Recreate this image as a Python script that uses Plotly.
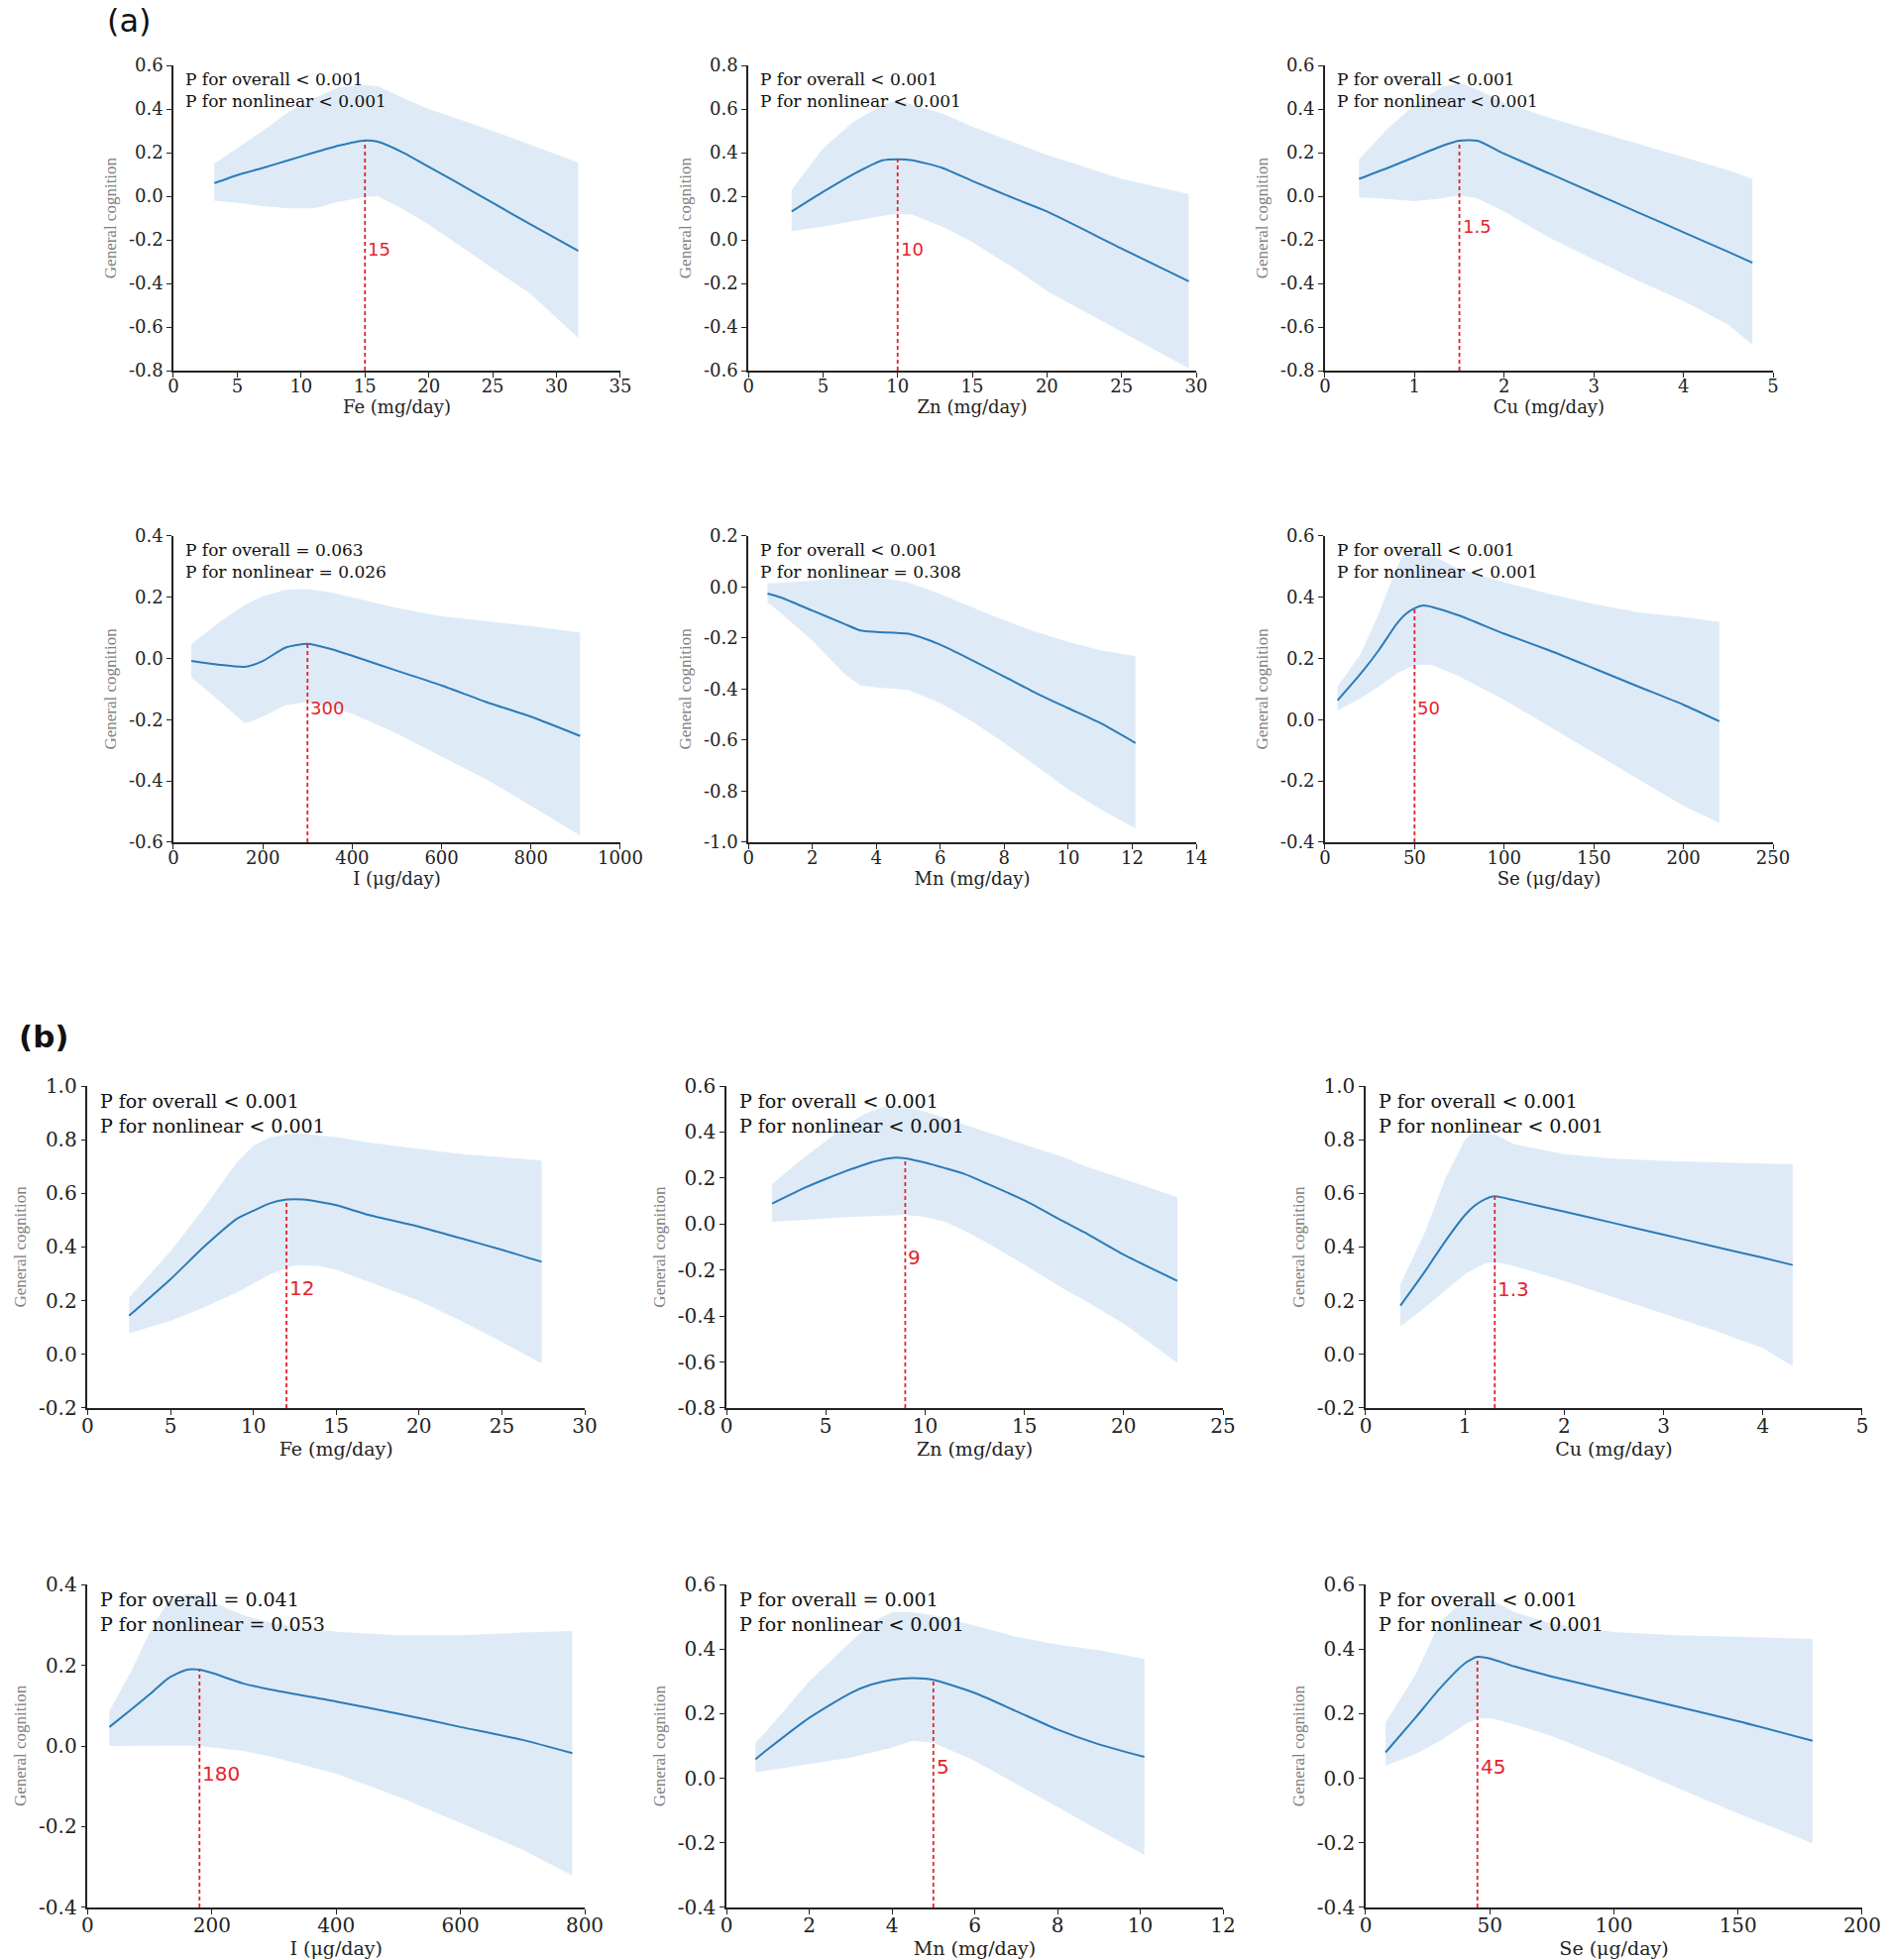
import numpy as np
import plotly.graph_objects as go

# ---------------------------------------------------------------
# (a) restricted cubic spline curves: x, estimate, lower CI, upper CI
# ---------------------------------------------------------------
FE_A_X = [3.2, 5, 7, 9, 11, 13, 15, 16, 18, 20, 22, 25, 28, 31.7]
FE_A_EST = [0.06, 0.097, 0.13, 0.165, 0.2, 0.233, 0.256, 0.25, 0.2, 0.135, 0.07, -0.03, -0.13, -0.25]
FE_A_LO = [-0.02, -0.03, -0.045, -0.055, -0.055, -0.025, -0.003, 0.0, -0.06, -0.13, -0.21, -0.33, -0.45, -0.65]
FE_A_HI = [0.15, 0.22, 0.3, 0.385, 0.45, 0.5, 0.51, 0.505, 0.45, 0.4, 0.36, 0.3, 0.235, 0.155]

ZN_A_X = [2.9, 5, 7, 9, 10, 11, 13, 15, 18, 20, 25, 29.5]
ZN_A_EST = [0.13, 0.22, 0.3, 0.365, 0.37, 0.365, 0.33, 0.27, 0.185, 0.13, -0.04, -0.19]
ZN_A_LO = [0.04, 0.06, 0.085, 0.11, 0.12, 0.115, 0.06, -0.01, -0.14, -0.235, -0.42, -0.59]
ZN_A_HI = [0.23, 0.42, 0.54, 0.62, 0.64, 0.62, 0.58, 0.52, 0.44, 0.39, 0.28, 0.21]

CU_A_X = [0.38, 0.7, 1.0, 1.3, 1.5, 1.7, 2.0, 2.5, 3.0, 3.5, 4.0, 4.5, 4.77]
CU_A_EST = [0.08, 0.13, 0.18, 0.23, 0.255, 0.255, 0.195, 0.105, 0.015, -0.075, -0.165, -0.255, -0.305]
CU_A_LO = [-0.005, -0.012, -0.022, -0.01, 0.005, -0.01, -0.07, -0.19, -0.29, -0.39, -0.48, -0.59, -0.68]
CU_A_HI = [0.17, 0.31, 0.42, 0.5, 0.52, 0.49, 0.43, 0.36, 0.3, 0.24, 0.18, 0.12, 0.08]

I_A_X = [40, 100, 160, 200, 250, 300, 350, 400, 500, 600, 700, 800, 910]
I_A_EST = [-0.008, -0.02, -0.027, -0.008, 0.035, 0.048, 0.032, 0.009, -0.04, -0.088, -0.142, -0.19, -0.253]
I_A_LO = [-0.061, -0.135, -0.212, -0.19, -0.153, -0.142, -0.158, -0.18, -0.245, -0.32, -0.395, -0.481, -0.578]
I_A_HI = [0.046, 0.116, 0.175, 0.203, 0.224, 0.227, 0.217, 0.2, 0.165, 0.138, 0.122, 0.106, 0.084]

MN_A_X = [0.6, 1, 2, 3, 3.5, 4, 5, 6, 7, 8, 9, 10, 11, 12.1]
MN_A_EST = [-0.025, -0.04, -0.092, -0.144, -0.17, -0.176, -0.183, -0.226, -0.287, -0.351, -0.416, -0.475, -0.533, -0.611]
MN_A_LO = [-0.06, -0.1, -0.21, -0.34, -0.385, -0.393, -0.403, -0.455, -0.527, -0.611, -0.702, -0.792, -0.87, -0.946]
MN_A_HI = [0.014, 0.016, 0.025, 0.038, 0.04, 0.04, 0.018, -0.027, -0.08, -0.13, -0.176, -0.215, -0.248, -0.27]

SE_A_X = [7, 20, 30, 40, 45, 50, 55, 60, 75, 100, 125, 150, 175, 200, 220]
SE_A_EST = [0.063, 0.151, 0.227, 0.313, 0.345, 0.364, 0.373, 0.368, 0.34, 0.281, 0.227, 0.168, 0.108, 0.049, -0.005]
SE_A_LO = [0.03, 0.07, 0.108, 0.151, 0.165, 0.178, 0.18, 0.178, 0.141, 0.065, -0.022, -0.108, -0.195, -0.281, -0.337]
SE_A_HI = [0.108, 0.216, 0.346, 0.497, 0.551, 0.562, 0.557, 0.535, 0.492, 0.449, 0.411, 0.378, 0.351, 0.335, 0.319]

# ---------------------------------------------------------------
# (b)
# ---------------------------------------------------------------
FE_B_X = [2.5, 5, 7, 9, 10, 11, 12, 12.5, 13, 14, 15, 17, 20, 22.5, 25, 27.4]
FE_B_EST = [0.144, 0.28, 0.4, 0.505, 0.535, 0.563, 0.577, 0.578, 0.577, 0.568, 0.556, 0.519, 0.476, 0.433, 0.39, 0.345]
FE_B_LO = [0.079, 0.125, 0.175, 0.23, 0.265, 0.298, 0.322, 0.331, 0.333, 0.329, 0.315, 0.27, 0.2, 0.126, 0.046, -0.034]
FE_B_HI = [0.212, 0.384, 0.544, 0.716, 0.778, 0.809, 0.82, 0.825, 0.823, 0.815, 0.81, 0.79, 0.766, 0.747, 0.735, 0.722]

ZN_B_X = [2.3, 4, 5, 6, 7, 8, 8.5, 9, 10, 11, 12, 13, 15, 17, 18, 20, 22.7]
ZN_B_EST = [0.089, 0.16, 0.196, 0.23, 0.26, 0.283, 0.289, 0.286, 0.267, 0.243, 0.217, 0.18, 0.103, 0.01, -0.035, -0.133, -0.247]
ZN_B_LO = [0.01, 0.02, 0.024, 0.03, 0.034, 0.037, 0.038, 0.039, 0.031, 0.01, -0.03, -0.076, -0.176, -0.283, -0.33, -0.433, -0.604]
ZN_B_HI = [0.174, 0.296, 0.36, 0.431, 0.481, 0.513, 0.515, 0.51, 0.489, 0.46, 0.431, 0.405, 0.346, 0.29, 0.253, 0.196, 0.117]

CU_B_X = [0.35, 0.6, 0.8, 1.0, 1.1, 1.2, 1.3, 1.5, 2.0, 2.5, 3.0, 3.5, 4.0, 4.3]
CU_B_EST = [0.182, 0.311, 0.421, 0.519, 0.555, 0.578, 0.589, 0.574, 0.532, 0.489, 0.446, 0.403, 0.36, 0.333]
CU_B_LO = [0.105, 0.176, 0.238, 0.299, 0.32, 0.338, 0.345, 0.329, 0.274, 0.213, 0.152, 0.091, 0.023, -0.044]
CU_B_HI = [0.262, 0.458, 0.654, 0.801, 0.834, 0.83, 0.82, 0.783, 0.746, 0.73, 0.721, 0.715, 0.711, 0.709]

I_B_X = [35, 70, 100, 130, 160, 180, 200, 250, 300, 400, 500, 600, 700, 780]
I_B_EST = [0.047, 0.09, 0.128, 0.168, 0.189, 0.189, 0.181, 0.155, 0.138, 0.11, 0.08, 0.047, 0.015, -0.018]
I_B_LO = [0.0, 0.0, 0.001, 0.001, 0.001, 0.0, -0.003, -0.012, -0.028, -0.069, -0.126, -0.191, -0.257, -0.321]
I_B_HI = [0.087, 0.185, 0.283, 0.36, 0.377, 0.375, 0.357, 0.324, 0.303, 0.283, 0.274, 0.274, 0.281, 0.285]

MN_B_X = [0.7, 1, 2, 3, 3.5, 4, 4.5, 5, 6, 7, 8, 9, 10.1]
MN_B_EST = [0.059, 0.09, 0.187, 0.264, 0.29, 0.305, 0.31, 0.305, 0.264, 0.208, 0.151, 0.105, 0.066]
MN_B_LO = [0.018, 0.024, 0.044, 0.064, 0.08, 0.095, 0.116, 0.11, 0.054, -0.017, -0.089, -0.161, -0.237]
MN_B_HI = [0.11, 0.151, 0.3, 0.422, 0.483, 0.514, 0.514, 0.504, 0.473, 0.438, 0.414, 0.397, 0.369]

SE_B_X = [8, 20, 30, 40, 45, 50, 60, 75, 100, 125, 150, 180]
SE_B_EST = [0.08, 0.187, 0.279, 0.356, 0.376, 0.371, 0.346, 0.315, 0.269, 0.223, 0.177, 0.116]
SE_B_LO = [0.039, 0.075, 0.116, 0.167, 0.185, 0.187, 0.167, 0.131, 0.054, -0.028, -0.109, -0.201]
SE_B_HI = [0.172, 0.32, 0.484, 0.555, 0.565, 0.555, 0.514, 0.478, 0.453, 0.443, 0.438, 0.431]

# cut points (red dashed lines) and p values
CUTS_A = [15, 10, 1.5, 300, None, 50]
CUTS_B = [12, 9, 1.3, 180, 5, 45]
P_OVERALL_A = ["< 0.001", "< 0.001", "< 0.001", "= 0.063", "< 0.001", "< 0.001"]
P_NONLIN_A = ["< 0.001", "< 0.001", "< 0.001", "= 0.026", "= 0.308", "< 0.001"]
P_OVERALL_B = ["< 0.001", "< 0.001", "< 0.001", "= 0.041", "= 0.001", "< 0.001"]
P_NONLIN_B = ["< 0.001", "< 0.001", "< 0.001", "= 0.053", "< 0.001", "< 0.001"]
X_TITLES = ["Fe (mg/day)", "Zn (mg/day)", "Cu (mg/day)", "I (μg/day)", "Mn (mg/day)", "Se (μg/day)"]

CURVES_A = [(FE_A_X, FE_A_EST, FE_A_LO, FE_A_HI), (ZN_A_X, ZN_A_EST, ZN_A_LO, ZN_A_HI),
            (CU_A_X, CU_A_EST, CU_A_LO, CU_A_HI), (I_A_X, I_A_EST, I_A_LO, I_A_HI),
            (MN_A_X, MN_A_EST, MN_A_LO, MN_A_HI), (SE_A_X, SE_A_EST, SE_A_LO, SE_A_HI)]
CURVES_B = [(FE_B_X, FE_B_EST, FE_B_LO, FE_B_HI), (ZN_B_X, ZN_B_EST, ZN_B_LO, ZN_B_HI),
            (CU_B_X, CU_B_EST, CU_B_LO, CU_B_HI), (I_B_X, I_B_EST, I_B_LO, I_B_HI),
            (MN_B_X, MN_B_EST, MN_B_LO, MN_B_HI), (SE_B_X, SE_B_EST, SE_B_LO, SE_B_HI)]

# ---------------------------------------------------------------
# layout settings per panel
# ---------------------------------------------------------------
XRANGE_A = [[0, 35, 5], [0, 30, 5], [0, 5, 1], [0, 1000, 200], [0, 14, 2], [0, 250, 50]]
YRANGE_A = [[-0.8, 0.6], [-0.6, 0.8], [-0.8, 0.6], [-0.6, 0.4], [-1.0, 0.2], [-0.4, 0.6]]
XRANGE_B = [[0, 30, 5], [0, 25, 5], [0, 5, 1], [0, 800, 200], [0, 12, 2], [0, 200, 50]]
YRANGE_B = [[-0.2, 1.0], [-0.8, 0.6], [-0.2, 1.0], [-0.4, 0.4], [-0.4, 0.6], [-0.4, 0.6]]
LABEL_Y_A = [-0.245, -0.045, -0.14, -0.162, None, 0.038]
LABEL_Y_B = [0.246, -0.147, 0.244, -0.069, 0.036, 0.036]

XDOM_A = [[0.0920, 0.3291], [0.3970, 0.6346], [0.7029, 0.9406]]
XDOM_B = [[0.0465, 0.3102], [0.3854, 0.6488], [0.7245, 0.9879]]
YDOM = [[0.8109, 0.9666], [0.5703, 0.7265], [0.2816, 0.4459], [0.0268, 0.1916]]

BAND = "rgb(222,235,247)"
LINE = "#2c7bb6"
RED = "#e3232c"
SERIF = "DejaVu Serif"


def tick_labels(lo, hi, step):
    vals = np.round(np.arange(lo, hi + step / 2, step), 6)
    texts = []
    for v in vals:
        v = 0.0 if abs(v) < 1e-9 else v
        texts.append(("%.1f" % v) if step < 1 else ("%g" % v))
    return list(vals), texts


fig = go.Figure()
layout = {}
annotations = []

n = 0
for part in range(2):
    curves = [CURVES_A, CURVES_B][part]
    cuts = [CUTS_A, CUTS_B][part]
    povr = [P_OVERALL_A, P_OVERALL_B][part]
    pnl = [P_NONLIN_A, P_NONLIN_B][part]
    xr = [XRANGE_A, XRANGE_B][part]
    yr = [YRANGE_A, YRANGE_B][part]
    laby = [LABEL_Y_A, LABEL_Y_B][part]
    xdom = [XDOM_A, XDOM_B][part]
    fs = [17, 19][part]      # p-value text
    tfs = [18, 20][part]     # tick labels
    xtfs = [18, 19][part]    # x title
    ytfs = [17, 17][part]    # y title
    for i in range(6):
        n += 1
        row = part * 2 + i // 3
        col = i % 3
        suffix = "" if n == 1 else str(n)
        xa = "x" + suffix
        ya = "y" + suffix
        x, est, lo, hi = curves[i]

        fig.add_trace(go.Scatter(
            x=list(x) + list(x)[::-1], y=list(hi) + list(lo)[::-1],
            fill="toself", fillcolor=BAND, line=dict(width=0),
            mode="lines", hoverinfo="skip", showlegend=False, xaxis=xa, yaxis=ya))
        fig.add_trace(go.Scatter(
            x=x, y=est, mode="lines", line=dict(color=LINE, width=2, shape="spline", smoothing=0.6),
            showlegend=False, xaxis=xa, yaxis=ya))

        cut = cuts[i]
        if cut is not None:
            top = float(np.interp(cut, x, est))
            fig.add_trace(go.Scatter(
                x=[cut, cut], y=[yr[i][0], top], mode="lines",
                line=dict(color=RED, width=1.8, dash="4px,3px"),
                showlegend=False, xaxis=xa, yaxis=ya))
            annotations.append(dict(
                x=cut, y=laby[i], xref=xa, yref=ya, text="%g" % cut, showarrow=False,
                xanchor="left", yanchor="middle", xshift=1,
                font=dict(family="DejaVu Sans", size=[18, 20][part], color=RED)))

        annotations.append(dict(
            x=0.022, y=0.995, xref=xa + " domain", yref=ya + " domain",
            text="P for overall %s<br>P for nonlinear %s" % (povr[i], pnl[i]),
            showarrow=False, xanchor="left", yanchor="top", align="left",
            font=dict(family=SERIF, size=fs, color="#111111")))

        xv, xt = tick_labels(xr[i][0], xr[i][1], xr[i][2])
        yv, yt = tick_labels(yr[i][0], yr[i][1], 0.2)
        layout["xaxis" + suffix] = dict(
            domain=xdom[col], anchor=ya, range=[xr[i][0], xr[i][1]],
            tickmode="array", tickvals=xv, ticktext=xt, ticklabelstandoff=-6,
            showline=True, linecolor="#222222", linewidth=1.5, ticks="outside", ticklen=5,
            tickcolor="#222222", showgrid=False, zeroline=False, automargin=False,
            tickfont=dict(family=SERIF, size=tfs, color="#222222"),
            title=dict(text=X_TITLES[i], standoff=0,
                       font=dict(family=SERIF, size=xtfs, color="#222222")))
        layout["yaxis" + suffix] = dict(
            domain=YDOM[row], anchor=xa, range=yr[i],
            tickmode="array", tickvals=yv, ticktext=yt,
            showline=True, linecolor="#222222", linewidth=1.5, ticks="outside", ticklen=5,
            tickcolor="#222222", showgrid=False, zeroline=False, automargin=False,
            tickfont=dict(family=SERIF, size=tfs, color="#222222"),
            title=dict(text="General cognition", standoff=8,
                       font=dict(family="Liberation Serif", size=ytfs, color="#808080")))

annotations.append(dict(x=130 / 1902, y=1 - 21 / 1978, xref="paper", yref="paper", text="(a)",
                        showarrow=False, xanchor="center", yanchor="middle",
                        font=dict(family="DejaVu Sans", size=32, color="#111111")))
annotations.append(dict(x=44 / 1902, y=1 - 1046 / 1978, xref="paper", yref="paper", text="<b>(b)</b>",
                        showarrow=False, xanchor="center", yanchor="middle",
                        font=dict(family="DejaVu Sans", size=31, color="#111111")))

fig.update_layout(layout)
fig.update_layout(
    template="none",
    width=1902, height=1978,
    margin=dict(l=0, r=0, t=0, b=0),
    paper_bgcolor="white", plot_bgcolor="white",
    showlegend=False,
    annotations=annotations,
)

fig.write_html("out.html", config={"displayModeBar": False},
               post_script="document.body.style.margin='0px';")
